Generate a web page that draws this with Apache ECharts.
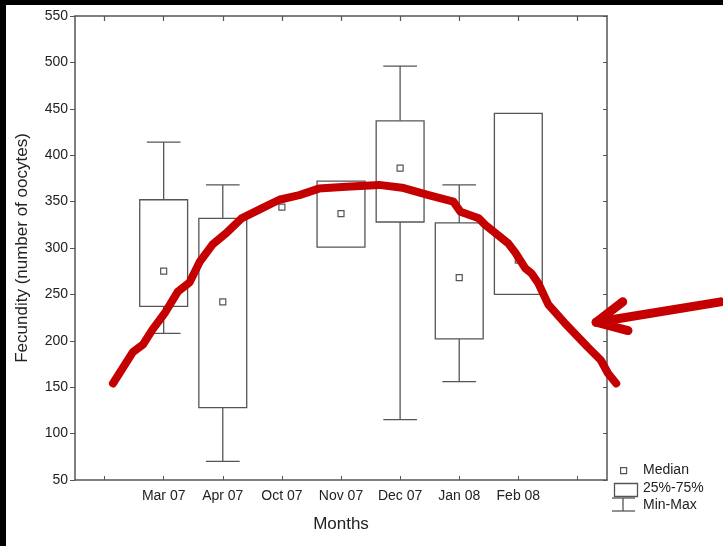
<!DOCTYPE html>
<html>
<head>
<meta charset="utf-8">
<script src="https://cdn.jsdelivr.net/npm/echarts@6/dist/echarts.min.js"></script>
<style>
  html, body { margin: 0; padding: 0; background: #000; }
  #chart {
    position: absolute;
    left: 6px;
    top: 5px;
    width: 717px;
    height: 541px;
    background: #fff;
  }
</style>
</head>
<body>
<div id="chart"></div>
<script>
// x categories (blank slots at both ends, as in the original plot)
const categories = ['', 'Mar 07', 'Apr 07', 'Oct 07', 'Nov 07', 'Dec 07', 'Jan 08', 'Feb 08', '']

// box statistics for Mar 07 .. Feb 08 (category index 1..7)
const boxIndex = [1, 2, 3, 4, 5, 6, 7]
const mins    = [208, 70, 344, 301, 115, 156, 250]
const q1s     = [237, 128, 344, 301, 328, 202, 250]
const medians = [275, 242, 344, 337, 386, 268, 287]
const q3s     = [352, 332, 344, 372, 437, 327, 445]
const maxs    = [414, 368, 344, 372, 496, 368, 445]

// hand-drawn red trend curve (x in category units, 0..9)
const curveX = [0.66, 1.00, 1.17, 1.33, 1.55, 1.76, 1.96, 2.13, 2.35, 2.58, 2.84, 3.19, 3.48, 3.82,
  4.15, 4.61, 5.17, 5.56, 6.01, 6.43, 6.55, 6.86, 6.97, 7.36, 7.48, 7.65, 7.75, 7.87, 8.04,
  8.32, 8.71, 8.93, 9.05, 9.19]
const curveY = [154, 188, 196, 212, 231, 253, 263, 285, 304, 316, 332, 343, 352, 357,
  364, 366, 368, 365, 357, 350, 339, 332, 325, 305, 295, 278, 273, 262, 239,
  219, 193, 179, 165, 154]

// red arrow pointing at the curve
const arrowX = [10.96, 8.85]
const arrowY = [242, 220]
const headX = [9.30, 8.85, 9.39]
const headY = [242, 220, 211]

const FONT = 'Liberation Sans, Arial, sans-serif'
const AXIS_COLOR = '#555'
const RED = '#c40000'

const boxData = boxIndex.map((c, i) => [c, mins[i], q1s[i], medians[i], q3s[i], maxs[i]])
const zip = (xs, ys) => xs.map((x, i) => [x, ys[i]])

// box + whiskers + median square
const renderBox = (params, api) => {
  const c = api.value(0)
  const pMin = api.coord([c, api.value(1)])
  const pQ1 = api.coord([c, api.value(2)])
  const pMed = api.coord([c, api.value(3)])
  const pQ3 = api.coord([c, api.value(4)])
  const pMax = api.coord([c, api.value(5)])
  const band = api.size([1, 0])[0]
  const boxW = band * 0.81
  const capW = band * 0.57
  const cx = pMed[0]
  const st = { stroke: AXIS_COLOR, lineWidth: 1.3, fill: null }
  const kids = []
  if (pMax[1] < pQ3[1] - 0.5) {
    kids.push({ type: 'line', shape: { x1: cx, y1: pMax[1], x2: cx, y2: pQ3[1] }, style: st })
    kids.push({ type: 'line', shape: { x1: cx - capW / 2, y1: pMax[1], x2: cx + capW / 2, y2: pMax[1] }, style: st })
  }
  if (pMin[1] > pQ1[1] + 0.5) {
    kids.push({ type: 'line', shape: { x1: cx, y1: pQ1[1], x2: cx, y2: pMin[1] }, style: st })
    kids.push({ type: 'line', shape: { x1: cx - capW / 2, y1: pMin[1], x2: cx + capW / 2, y2: pMin[1] }, style: st })
  }
  if (pQ1[1] - pQ3[1] > 0.5) {
    kids.push({ type: 'rect', shape: { x: cx - boxW / 2, y: pQ3[1], width: boxW, height: pQ1[1] - pQ3[1] }, style: st })
  }
  kids.push({ type: 'rect', shape: { x: cx - 3, y: pMed[1] - 3, width: 6, height: 6 },
    style: { stroke: AXIS_COLOR, lineWidth: 1.2, fill: '#fff' } })
  return { type: 'group', children: kids }
}

const legendStyle = { stroke: AXIS_COLOR, lineWidth: 1.3, fill: null }
const legendText = (y, text) => ({
  type: 'text', left: 637, top: y - 8,
  style: { text: text, font: '14px ' + FONT, fill: '#222' }
})

// plot box: 533 px wide for 9 category slots
const PLOT_W = 533
const SLOT = PLOT_W / 9

const chart = echarts.init(document.getElementById('chart'))
chart.setOption({
  backgroundColor: '#fff',
  animation: false,
  grid: [
    { left: 68, top: 11, width: PLOT_W, bottom: 66 },
    // wider overlay grid for the drawn curve and arrow, same scale (0..11 slots)
    { left: 68, top: 11, width: SLOT * 11, bottom: 66 }
  ],
  xAxis: [{
    type: 'category',
    gridIndex: 0,
    data: categories,
    position: 'bottom',
    boundaryGap: true,
    name: 'Months',
    nameLocation: 'middle',
    nameGap: 36,
    nameTextStyle: { fontFamily: FONT, fontSize: 17, color: '#222' },
    axisLine: { lineStyle: { color: AXIS_COLOR, width: 1.5 } },
    axisTick: { show: true, alignWithLabel: true, inside: true, length: 4, lineStyle: { color: AXIS_COLOR } },
    axisLabel: { interval: 0, margin: 9, fontFamily: FONT, fontSize: 14, color: '#222' },
    splitLine: { show: false }
  }, {
    type: 'category',
    gridIndex: 0,
    data: categories,
    position: 'top',
    boundaryGap: true,
    axisLine: { show: true, lineStyle: { color: AXIS_COLOR, width: 1.5 } },
    axisTick: { show: true, alignWithLabel: true, inside: true, length: 5, lineStyle: { color: AXIS_COLOR, width: 1.2 } },
    axisLabel: { show: false },
    splitLine: { show: false }
  }, {
    type: 'value',
    gridIndex: 1,
    min: 0,
    max: 11,
    show: false
  }],
  yAxis: [{
    type: 'value',
    gridIndex: 0,
    min: 50,
    max: 550,
    interval: 50,
    position: 'left',
    name: 'Fecundity (number of oocytes)',
    nameLocation: 'middle',
    nameGap: 44,
    nameTextStyle: { fontFamily: FONT, fontSize: 17, color: '#222' },
    axisLine: { show: true, lineStyle: { color: AXIS_COLOR, width: 1.5 } },
    axisTick: { show: true, length: 5, lineStyle: { color: AXIS_COLOR } },
    axisLabel: { margin: 7, fontFamily: FONT, fontSize: 14, color: '#222' },
    splitLine: { show: false }
  }, {
    type: 'value',
    gridIndex: 0,
    min: 50,
    max: 550,
    interval: 50,
    position: 'right',
    axisLine: { show: true, lineStyle: { color: AXIS_COLOR, width: 1.5 } },
    axisTick: { show: true, inside: true, length: 4, lineStyle: { color: AXIS_COLOR } },
    axisLabel: { show: false },
    splitLine: { show: false }
  }, {
    type: 'value',
    gridIndex: 1,
    min: 50,
    max: 550,
    show: false
  }],
  series: [{
    type: 'custom',
    xAxisIndex: 0,
    yAxisIndex: 0,
    data: boxData,
    encode: { x: 0, y: [1, 2, 3, 4, 5] },
    renderItem: renderBox,
    z: 2
  }, {
    type: 'line',
    xAxisIndex: 2,
    yAxisIndex: 2,
    data: zip(curveX, curveY),
    showSymbol: false,
    clip: false,
    lineStyle: { color: RED, width: 8, cap: 'round', join: 'round' },
    z: 3
  }, {
    type: 'line',
    xAxisIndex: 2,
    yAxisIndex: 2,
    data: zip(arrowX, arrowY),
    showSymbol: false,
    clip: false,
    lineStyle: { color: RED, width: 9, cap: 'round', join: 'round' },
    z: 3
  }, {
    type: 'line',
    xAxisIndex: 2,
    yAxisIndex: 2,
    data: zip(headX, headY),
    showSymbol: false,
    clip: false,
    lineStyle: { color: RED, width: 9, cap: 'round', join: 'round' },
    z: 3
  }],
  graphic: [
    { type: 'rect', left: 614, top: 462, shape: { width: 6, height: 6 },
      style: { stroke: AXIS_COLOR, lineWidth: 1.2, fill: '#fff' } },
    legendText(466, 'Median'),
    { type: 'rect', left: 606, top: 476, shape: { width: 23, height: 13 }, style: legendStyle },
    legendText(484, '25%-75%'),
    { type: 'polyline', shape: { points: [[606, 493], [629, 493]] }, style: legendStyle },
    { type: 'polyline', shape: { points: [[617, 493], [617, 506]] }, style: legendStyle },
    { type: 'polyline', shape: { points: [[606, 506], [629, 506]] }, style: legendStyle },
    legendText(501, 'Min-Max')
  ]
})
</script>
</body>
</html>
